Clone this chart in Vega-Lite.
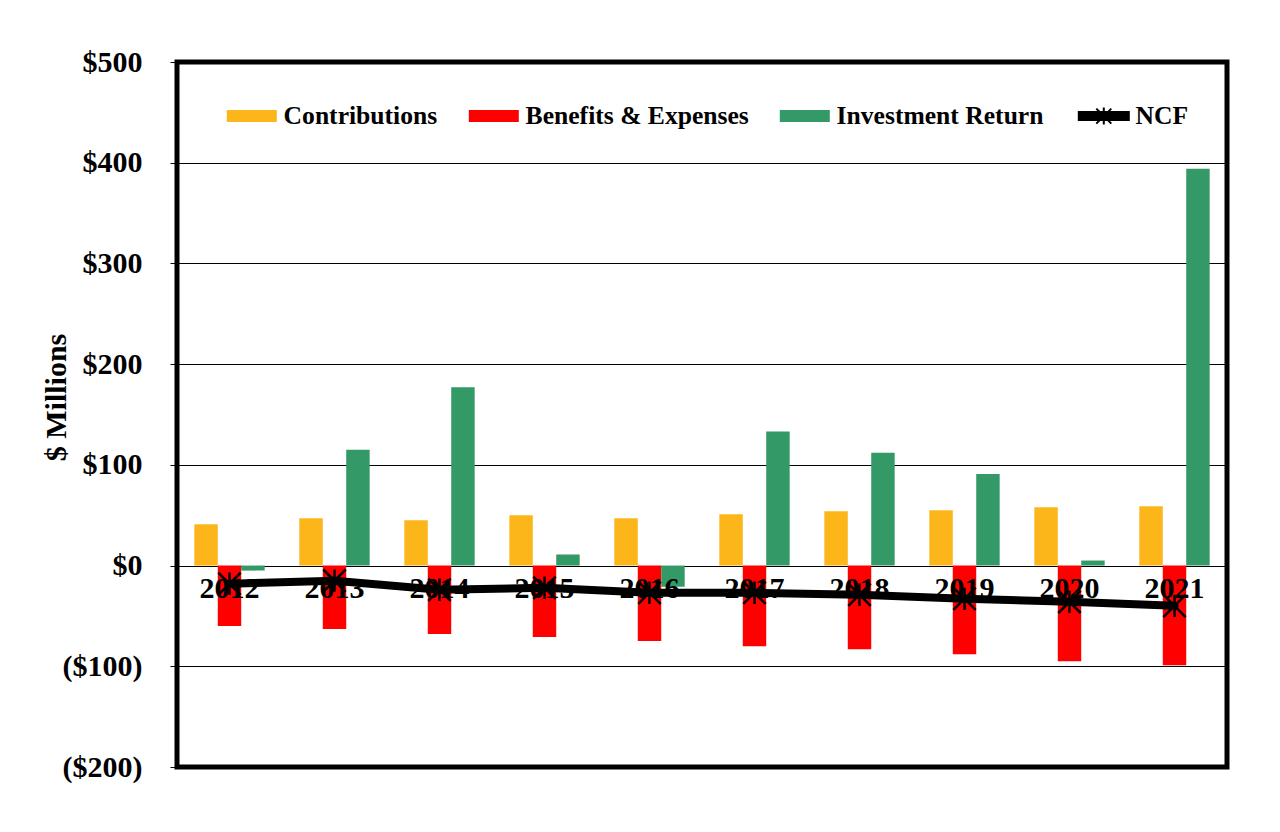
{
  "$schema": "https://vega.github.io/schema/vega-lite/v6.json",
  "width": 1050,
  "height": 705,
  "autosize": {"type": "none"},
  "padding": {"left": 177, "top": 62, "right": 53, "bottom": 65},
  "background": "white",
  "config": {
    "font": "Liberation Serif",
    "view": {"stroke": "black", "strokeWidth": 5},
    "axis": {"labelFont": "Liberation Serif", "titleFont": "Liberation Serif"},
    "legend": {"labelFont": "Liberation Serif"}
  },
  "datasets": {
    "bars": [
      {"year": "2012", "series": "Contributions", "value": 41},
      {"year": "2012", "series": "Benefits & Expenses", "value": -60},
      {"year": "2012", "series": "Investment Return", "value": -5},
      {"year": "2013", "series": "Contributions", "value": 47},
      {"year": "2013", "series": "Benefits & Expenses", "value": -63},
      {"year": "2013", "series": "Investment Return", "value": 115},
      {"year": "2014", "series": "Contributions", "value": 45},
      {"year": "2014", "series": "Benefits & Expenses", "value": -68},
      {"year": "2014", "series": "Investment Return", "value": 177},
      {"year": "2015", "series": "Contributions", "value": 50},
      {"year": "2015", "series": "Benefits & Expenses", "value": -71},
      {"year": "2015", "series": "Investment Return", "value": 11},
      {"year": "2016", "series": "Contributions", "value": 47},
      {"year": "2016", "series": "Benefits & Expenses", "value": -75},
      {"year": "2016", "series": "Investment Return", "value": -21},
      {"year": "2017", "series": "Contributions", "value": 51},
      {"year": "2017", "series": "Benefits & Expenses", "value": -80},
      {"year": "2017", "series": "Investment Return", "value": 133},
      {"year": "2018", "series": "Contributions", "value": 54},
      {"year": "2018", "series": "Benefits & Expenses", "value": -83},
      {"year": "2018", "series": "Investment Return", "value": 112},
      {"year": "2019", "series": "Contributions", "value": 55},
      {"year": "2019", "series": "Benefits & Expenses", "value": -88},
      {"year": "2019", "series": "Investment Return", "value": 91},
      {"year": "2020", "series": "Contributions", "value": 58},
      {"year": "2020", "series": "Benefits & Expenses", "value": -95},
      {"year": "2020", "series": "Investment Return", "value": 5},
      {"year": "2021", "series": "Contributions", "value": 59},
      {"year": "2021", "series": "Benefits & Expenses", "value": -99},
      {"year": "2021", "series": "Investment Return", "value": 394}
    ],
    "ncf": [
      {"year": "2012", "value": -18},
      {"year": "2013", "value": -15},
      {"year": "2014", "value": -24},
      {"year": "2015", "value": -22},
      {"year": "2016", "value": -27},
      {"year": "2017", "value": -27},
      {"year": "2018", "value": -29},
      {"year": "2019", "value": -33},
      {"year": "2020", "value": -36},
      {"year": "2021", "value": -40}
    ]
  },
  "encoding": {
    "x": {
      "field": "year",
      "type": "ordinal",
      "scale": {"paddingInner": 0.33, "paddingOuter": 0.165},
      "axis": {
        "title": null,
        "labelAngle": 0,
        "labelFontSize": 30,
        "labelFontWeight": "bold",
        "labelColor": "black",
        "ticks": false,
        "domain": false,
        "grid": false,
        "offset": -202,
        "labelPadding": 8,
        "zindex": 1
      }
    },
    "y": {
      "field": "value",
      "type": "quantitative",
      "scale": {"domain": [-200, 500], "nice": false, "zero": false},
      "axis": {
        "title": "$ Millions",
        "titleFontSize": 30,
        "titleFontWeight": "bold",
        "titleColor": "black",
        "titleX": -121,
        "titleY": 335,
        "titleBaseline": "middle",
        "titleAngle": 270,
        "values": [-200, -100, 0, 100, 200, 300, 400, 500],
        "labelExpr": "datum.value < 0 ? '($' + format(-datum.value, ',') + ')' : '$' + format(datum.value, ',') + '\u2005'",
        "labelFontSize": 30,
        "labelFontWeight": "bold",
        "labelColor": "black",
        "labelPadding": 28,
        "tickSize": 7,
        "tickColor": "black",
        "tickWidth": 1,
        "domain": false,
        "grid": true,
        "gridColor": "black",
        "gridWidth": 1,
        "gridOpacity": 1
      }
    }
  },
  "layer": [
    {
      "data": {"name": "bars"},
      "mark": {"type": "bar"},
      "encoding": {
        "xOffset": {
          "field": "series",
          "type": "nominal",
          "scale": {"domain": ["Contributions", "Benefits & Expenses", "Investment Return"], "paddingInner": 0, "paddingOuter": 0}
        },
        "color": {
          "field": "series",
          "type": "nominal",
          "scale": {
            "domain": ["Contributions", "Benefits & Expenses", "Investment Return", "NCF"],
            "range": ["#FCB61A", "#FF0000", "#339966", "#000000"]
          },
          "legend": {
            "title": null,
            "orient": "none",
            "direction": "horizontal",
            "columns": 4,
            "legendX": 62,
            "legendY": 41,
            "padding": 0,
            "columnPadding": 30,
            "symbolSize": 2500,
            "symbolOpacity": 1,
            "labelFontSize": 25.6,
            "labelFontWeight": "bold",
            "labelColor": "black",
            "labelOffset": 19,
            "labelLimit": 400,
            "encode": {
              "symbols": {
                "update": {
                  "shape": {"signal": "datum.value === 'NCF' ? 'M-1,-0.16H1V0.16H-1Z M0,-0.34V0.34 M-0.3,-0.3L0.3,0.3 M-0.3,0.3L0.3,-0.3' : 'M-1,-0.24H1V0.24H-1Z'"},
                  "strokeWidth": {"signal": "datum.value === 'NCF' ? 2 : 0"},
                  "stroke": {"signal": "datum.value === 'NCF' ? 'black' : 'transparent'"}
                }
              }
            }
          }
        }
      }
    },
    {
      "data": {"name": "ncf"},
      "mark": {"type": "line", "strokeWidth": 8, "strokeCap": "round", "strokeJoin": "round"},
      "encoding": {
        "color": {"datum": "NCF"}
      }
    },
    {
      "data": {"name": "ncf"},
      "mark": {
        "type": "point",
        "shape": "M0,-1V1M-1,-1L1,1M-1,1L1,-1",
        "size": 500,
        "filled": false,
        "strokeWidth": 2.5,
        "opacity": 1
      },
      "encoding": {
        "color": {"datum": "NCF"}
      }
    }
  ]
}
